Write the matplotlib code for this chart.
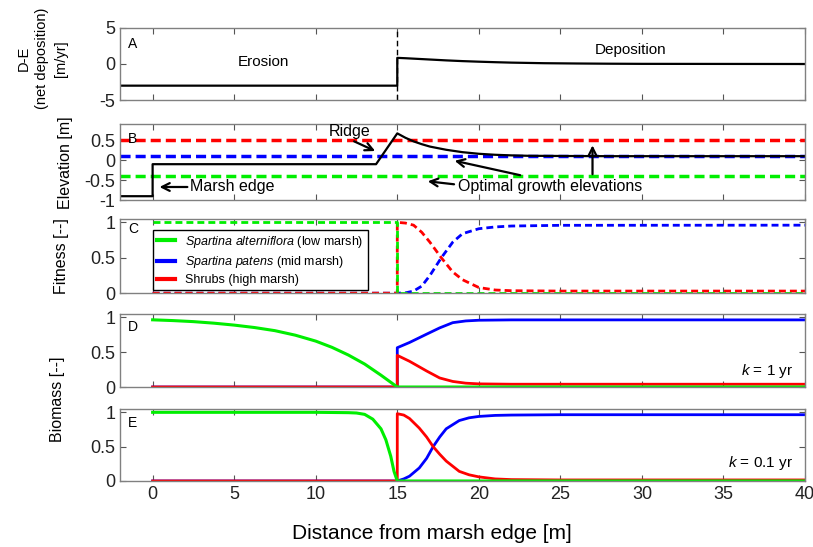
import matplotlib
matplotlib.use("Agg")
import matplotlib.pyplot as plt

plt.rcParams['font.family'] = ['Liberation Sans', 'DejaVu Sans']
plt.rcParams['mathtext.fontset'] = 'custom'
plt.rcParams['mathtext.it'] = 'Liberation Sans:italic'
plt.rcParams['mathtext.rm'] = 'Liberation Sans'
plt.rcParams['axes.unicode_minus'] = False

# --- data ---
# A: net deposition (D-E)
x_A = [-2, 15, 15, 15.5, 16, 16.5, 17, 18, 19, 20, 21, 22, 23, 24, 26, 28, 30, 35, 40]
de_A = [-3, -3, 0.85, 0.8, 0.74, 0.68, 0.62, 0.5, 0.4, 0.32, 0.25, 0.19, 0.15, 0.11, 0.07, 0.04, 0.02, 0.01, 0]

# B: elevation profile and optimal growth elevations
x_B = [-2, 0, 0, 13.7, 15, 15.5, 16, 16.5, 17, 18, 19, 20, 21, 22, 23, 25, 28, 40]
elev_B = [-0.9, -0.9, -0.1, -0.1, 0.67, 0.56, 0.47, 0.40, 0.34, 0.26, 0.2, 0.16, 0.135, 0.12, 0.11, 0.105, 0.1, 0.1]
opt_low = -0.4
opt_mid = 0.1
opt_high = 0.5

# C: fitness
x_C = [0, 15, 15, 15.5, 16, 16.5, 17, 17.7, 18.4, 19, 20, 21, 22, 25, 40]
fit_low = [1, 1, 0, 0, 0, 0, 0, 0, 0, 0, 0, 0, 0, 0, 0]
fit_mid = [0, 0, 0, 0.005, 0.03, 0.1, 0.25, 0.5, 0.72, 0.84, 0.91, 0.935, 0.948, 0.958, 0.96]
fit_high = [0, 0, 1.0, 0.99, 0.96, 0.86, 0.72, 0.5, 0.3, 0.19, 0.08, 0.045, 0.035, 0.03, 0.03]

# D: biomass, k = 1 yr
x_D = [0, 1.25, 2.5, 3.75, 5, 6.25, 7.5, 8.75, 10, 11, 12, 13, 13.5, 14, 14.5, 15, 15,
       15.75, 16.8, 17.6, 18.4, 19.2, 20, 22, 25, 40]
bio1_low = [0.966, 0.955, 0.94, 0.918, 0.89, 0.855, 0.81, 0.745, 0.66, 0.57, 0.46, 0.33, 0.25,
            0.17, 0.085, 0, 0,
            0, 0, 0, 0, 0, 0, 0, 0, 0]
bio1_mid = [0, 0, 0, 0, 0, 0, 0, 0, 0, 0, 0, 0, 0, 0, 0, 0, 0.565,
            0.64, 0.76, 0.85, 0.925, 0.95, 0.96, 0.965, 0.965, 0.965]
bio1_high = [0, 0, 0, 0, 0, 0, 0, 0, 0, 0, 0, 0, 0, 0, 0, 0, 0.455,
             0.37, 0.23, 0.13, 0.08, 0.055, 0.045, 0.04, 0.04, 0.04]

# E: biomass, k = 0.1 yr
x_E = [0, 5, 10, 12, 12.5, 13, 13.5, 14, 14.3, 14.6, 14.8, 15, 15,
       15.4, 15.75, 16.35, 16.8, 17.2, 17.6, 18, 18.8, 19.4, 20, 21, 22, 25, 40]
bio01_low = [1, 1, 1, 0.995, 0.99, 0.97, 0.9, 0.76, 0.6, 0.36, 0.14, 0, 0,
             0, 0, 0, 0, 0, 0, 0, 0, 0, 0, 0, 0, 0, 0]
bio01_mid = [0, 0, 0, 0, 0, 0, 0, 0, 0, 0, 0, 0, 0,
             0.03, 0.07, 0.19, 0.33, 0.5, 0.64, 0.76, 0.88, 0.92, 0.94, 0.955, 0.96, 0.965, 0.965]
bio01_high = [0, 0, 0, 0, 0, 0, 0, 0, 0, 0, 0, 0, 0.98,
              0.96, 0.91, 0.77, 0.64, 0.5, 0.39, 0.29, 0.14, 0.09, 0.06, 0.03, 0.02, 0.015, 0.015]

xticks = [0, 5, 10, 15, 20, 25, 30, 35, 40]

GREEN = '#00ee00'
BLUE = '#0000ff'
RED = '#ff0000'

fig = plt.figure(figsize=(8.13, 5.47), dpi=100)
left, width = 0.1476, 0.8426
axA = fig.add_axes([left, 0.817, width, 0.132])
axB = fig.add_axes([left, 0.634, width, 0.139])
axC = fig.add_axes([left, 0.464, width, 0.136])
axD = fig.add_axes([left, 0.2925, width, 0.1335])
axE = fig.add_axes([left, 0.1207, width, 0.1318])

for ax, letter, dy in zip([axA, axB, axC, axD, axE], 'ABCDE', [0.12, 0.1, 0.04, 0.08, 0.1]):
    ax.set_xlim(-2, 40)
    ax.set_xticks(xticks)
    ax.tick_params(direction='in', top=True, right=True, length=4, width=0.8,
                   color='#555555', labelsize=13, labelcolor='#222222')
    for s in ax.spines.values():
        s.set_color('#808080')
        s.set_linewidth(1)
    if ax is not axE:
        ax.set_xticklabels([])
    ax.text(0.012, 1 - dy, letter, transform=ax.transAxes, ha='left', va='top', fontsize=10)

# A
axA.plot(x_A, de_A, color='black', lw=1.6)
axA.axvline(15, color='black', lw=1, dashes=(4, 2.5))
axA.set_ylim(-5, 5)
axA.set_yticks([-5, 0, 5])
axA.text(6.8, 0.3, 'Erosion', ha='center', va='center', fontsize=11)
axA.text(29.3, 2.0, 'Deposition', ha='center', va='center', fontsize=11)

# B
axB.axhline(opt_high, color=RED, lw=2.5, dashes=(2.9, 1.45))
axB.axhline(opt_mid, color=BLUE, lw=2.5, dashes=(2.9, 1.45))
axB.axhline(opt_low, color=GREEN, lw=2.5, dashes=(2.9, 1.45))
axB.plot(x_B, elev_B, color='black', lw=1.6)
axB.set_ylim(-1, 0.9)
axB.set_yticks([-1, -0.5, 0, 0.5])
axB.set_yticklabels(['-1', '-0.5', '0', '0.5'])
arrow = dict(arrowstyle='->', color='black', lw=1.6, mutation_scale=14)
axB.text(12.1, 0.72, 'Ridge', ha='center', va='center', fontsize=11.5)
axB.annotate('', xy=(13.8, 0.2), xytext=(12.2, 0.5), arrowprops=arrow)
axB.text(4.9, -0.67, 'Marsh edge', ha='center', va='center', fontsize=11.5)
axB.annotate('', xy=(0.25, -0.67), xytext=(2.3, -0.67), arrowprops=arrow)
axB.text(24.4, -0.67, 'Optimal growth elevations', ha='center', va='center', fontsize=11.5)
axB.annotate('', xy=(16.7, -0.52), xytext=(18.65, -0.61), arrowprops=arrow)
axB.annotate('', xy=(18.35, 0.0), xytext=(22.7, -0.39), arrowprops=arrow)
axB.annotate('', xy=(26.97, 0.44), xytext=(26.97, -0.42), arrowprops=arrow)

# C
axC.plot(x_C, fit_mid, color=BLUE, lw=2, dashes=(2.5, 1.45))
axC.plot(x_C, fit_high, color=RED, lw=2, dashes=(2.5, 1.45))
axC.plot(x_C, fit_low, color=GREEN, lw=2, dashes=(2.5, 1.45))
axC.set_ylim(0, 1.05)
axC.set_yticks([0, 0.5, 1])
axC.set_yticklabels(['0', '0.5', '1'])
h1, = axC.plot([], [], color=GREEN, lw=3)
h2, = axC.plot([], [], color=BLUE, lw=3)
h3, = axC.plot([], [], color=RED, lw=3)
leg = axC.legend([h1, h2, h3],
                 [r'$\it{Spartina\ alterniflora}$ (low marsh)',
                  r'$\it{Spartina\ patens}$ (mid marsh)',
                  'Shrubs (high marsh)'],
                 loc='upper left', bbox_to_anchor=(0.048, 0.85), fontsize=9,
                 fancybox=False, framealpha=1, edgecolor='black',
                 handlelength=1.5, handletextpad=0.8, labelspacing=0.35,
                 borderpad=0.3, borderaxespad=0)
leg.get_frame().set_linewidth(1)

# D
axD.plot(x_D, bio1_mid, color=BLUE, lw=2)
axD.plot(x_D, bio1_high, color=RED, lw=2)
axD.plot(x_D, bio1_low, color=GREEN, lw=2.2)
axD.set_ylim(0, 1.05)
axD.set_yticks([0, 0.5, 1])
axD.set_yticklabels(['0', '0.5', '1'])
axD.text(0.982, 0.22, r'$\it{k}$ = 1 yr', transform=axD.transAxes, ha='right', va='center', fontsize=11)

# E
axE.plot(x_E, bio01_mid, color=BLUE, lw=2)
axE.plot(x_E, bio01_high, color=RED, lw=2)
axE.plot(x_E, bio01_low, color=GREEN, lw=2.2)
axE.set_ylim(0, 1.05)
axE.set_yticks([0, 0.5, 1])
axE.set_yticklabels(['0', '0.5', '1'])
axE.text(0.982, 0.245, r'$\it{k}$ = 0.1 yr', transform=axE.transAxes, ha='right', va='center', fontsize=11)

# axis labels
fig.text(0.052, 0.893, 'D-E\n(net deposition)\n[m/yr]', rotation=90, ha='center', va='center',
         fontsize=10.5, linespacing=1.45)
fig.text(0.080, 0.703, 'Elevation [m]', rotation=90, ha='center', va='center', fontsize=11.5)
fig.text(0.076, 0.532, 'Fitness [--]', rotation=90, ha='center', va='center', fontsize=11.5)
fig.text(0.071, 0.27, 'Biomass [--]', rotation=90, ha='center', va='center', fontsize=11.5)
fig.text(0.531, 0.024, 'Distance from marsh edge [m]', ha='center', va='center', fontsize=15)

fig.savefig('out.png', dpi=100)
